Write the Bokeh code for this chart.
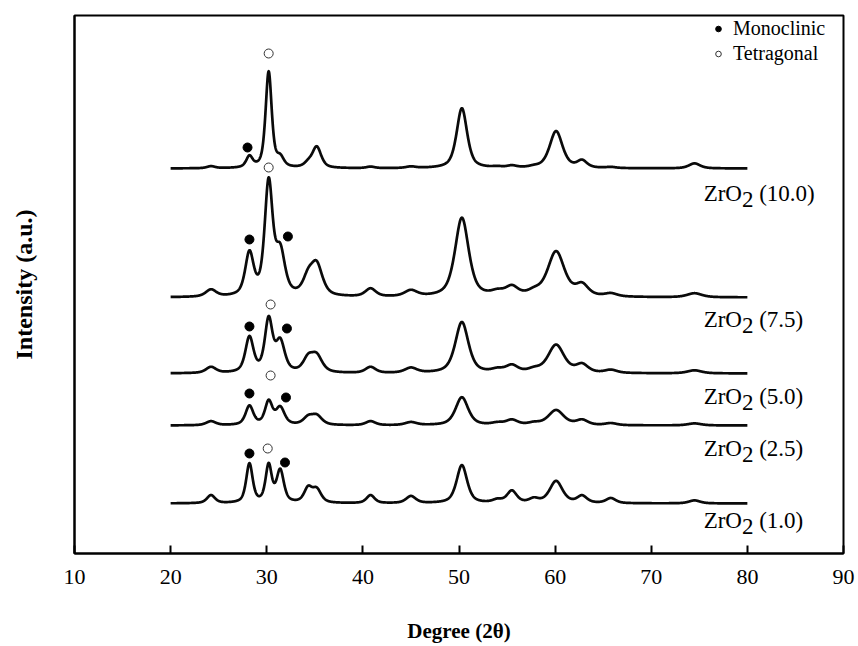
import numpy as np
from bokeh.plotting import figure
from bokeh.models import Range1d, FixedTicker, Legend, LegendItem, ColumnDataSource
from bokeh.core.properties import value
from bokeh.embed import file_html
from bokeh.resources import INLINE

# ---------------- data ----------------
samples = ["10.0", "7.5", "5.0", "2.5", "1.0"]
# vertical stacking offset of each pattern (a.u.)
offsets = [385, 256, 180, 128, 50]
# peak broadening factor of each sample
width_factor = [1.0, 1.3, 1.25, 1.2, 1.0]

# reflection positions (2 theta) and half widths (deg)
peak_pos = [24.2, 28.2, 30.2, 31.4, 34.3, 35.2, 40.8, 45.0, 50.3, 54.0, 55.5, 57.8, 60.1, 62.8, 65.8, 74.5]
peak_hwhm = [0.5, 0.4, 0.38, 0.45, 0.5, 0.55, 0.5, 0.6, 0.65, 0.6, 0.6, 0.6, 0.8, 0.6, 0.6, 0.7]

# peak intensities (a.u.) per sample
h_10_0 = [2, 11, 96, 9, 4, 21, 1.5, 1.5, 60, 1, 2, 1, 37, 7, 1, 5]
h_7_5 = [7, 42, 112, 42, 16, 30, 8, 6, 79, 4, 9, 4, 45, 11, 3, 4]
h_5_0 = [6, 35, 52, 30, 13, 16, 6, 5, 51, 3, 7, 3, 28, 8, 3, 3]
h_2_5 = [4, 19, 23, 17, 7, 9, 4, 3, 28, 2, 5, 2, 15, 5, 2, 2]
h_1_0 = [8, 39, 37, 32, 14, 13, 8, 7, 38, 3, 12, 4, 22, 7, 5, 3]
heights = [h_10_0, h_7_5, h_5_0, h_2_5, h_1_0]

# phase markers (2 theta, intensity a.u.)
mono_x = [28.0, 28.2, 32.2, 28.2, 32.1, 28.2, 32.0, 28.2, 31.9]
mono_y = [406, 314, 317, 227, 225, 160, 156, 100, 91]
tetra_x = [30.2, 30.2, 30.4, 30.4, 30.1]
tetra_y = [500, 386, 249, 178, 105]

x_ticks = [10, 20, 30, 40, 50, 60, 70, 80, 90]

# label layout (2 theta / a.u.)
label_x = 75.45
label_y = [360, 234, 157, 105, 33]

# ---------------- figure ----------------
FONT = "Liberation Serif"

p = figure(width=858, height=646, x_range=Range1d(10, 90), y_range=Range1d(0, 538),
           output_backend="svg", toolbar_location=None,
           min_border_left=74, min_border_right=15, min_border_top=15, min_border_bottom=93)
p.grid.visible = False
p.outline_line_color = "black"
p.outline_line_width = 2
p.background_fill_color = "white"
p.border_fill_color = "white"

two_theta = np.arange(20.0, 80.0001, 0.02)


def pattern(hs, wf):
    y = np.zeros_like(two_theta)
    for c, w, h in zip(peak_pos, peak_hwhm, hs):
        ww = w * wf
        r2 = ((two_theta - c) / ww) ** 2
        y += h * (0.6 / (1.0 + r2) + 0.4 * np.exp(-np.log(2) * r2))
    return y


for off, hs, wf in zip(offsets, heights, width_factor):
    p.line(two_theta, off + pattern(hs, wf), line_color="#0a0a0a", line_width=2.7, line_join="round")

mono_r = p.scatter(mono_x, mono_y, marker="circle", size=9, fill_color="black", line_color="black")
tetra_r = p.scatter(tetra_x, tetra_y, marker="circle", size=9, fill_color="white", line_color="#333333", line_width=1)

# sample labels  ZrO2 (x.x)
fs = 23
src = ColumnDataSource(dict(x=[label_x] * len(samples), y=label_y,
                            a=["ZrO"] * len(samples), b=["2"] * len(samples),
                            c=["(" + s + ")" for s in samples]))
w_zro = (0.611 + 0.333 + 0.722) * fs
common = dict(text_font=value(FONT), text_font_size=f"{fs}px", text_color="black",
              text_baseline="middle", text_align="left")
p.text(x="x", y="y", text="a", source=src, **common)
p.text(x="x", y="y", text="b", source=src, x_offset=w_zro, y_offset=6, **common)
p.text(x="x", y="y", text="c", source=src, x_offset=w_zro + 0.75 * fs, **common)

# axes
xa = p.xaxis[0]
xa.ticker = FixedTicker(ticks=x_ticks)
xa.axis_line_width = 2
xa.major_tick_line_width = 2
xa.major_tick_in = 8
xa.major_tick_out = 0
xa.minor_tick_line_color = None
xa.major_label_text_font = FONT
xa.major_label_text_font_size = "22px"
xa.major_label_text_color = "black"
xa.major_label_standoff = 16
xa.axis_label = "Degree (2θ)"
xa.axis_label_text_font = FONT
xa.axis_label_text_font_style = "bold"
xa.axis_label_text_font_size = "21px"
xa.axis_label_text_color = "black"
xa.axis_label_standoff = 32

ya = p.yaxis[0]
ya.ticker = FixedTicker(ticks=[])
ya.axis_line_width = 2
ya.major_tick_out = 0
ya.major_tick_in = 0
ya.minor_tick_line_color = None
ya.major_label_standoff = 5
ya.axis_label = "Intensity (a.u.)"
ya.axis_label_text_font = FONT
ya.axis_label_text_font_style = "bold"
ya.axis_label_text_font_size = "24px"
ya.axis_label_text_color = "black"
ya.axis_label_standoff = 38

legend = Legend(items=[LegendItem(label="Monoclinic", renderers=[mono_r]),
                       LegendItem(label="Tetragonal", renderers=[tetra_r])],
                location=(637, 487))
legend.label_text_font = FONT
legend.label_text_font_size = "20px"
legend.label_text_color = "black"
legend.border_line_color = None
legend.background_fill_alpha = 0
legend.glyph_width = 14
legend.glyph_height = 25
legend.label_height = 25
legend.label_standoff = 8
legend.spacing = 0
legend.padding = 0
legend.margin = 0
p.add_layout(legend)

open("out.html", "w").write(file_html(p, INLINE))
